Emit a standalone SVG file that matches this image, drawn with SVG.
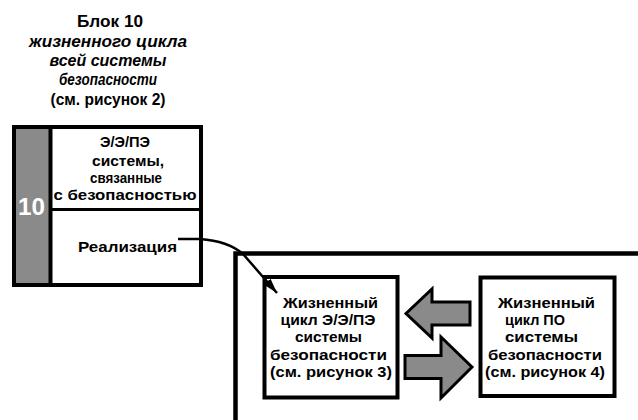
<svg xmlns="http://www.w3.org/2000/svg" width="638" height="420" viewBox="0 0 638 420">
  <style>
    .t { font-family: "Liberation Sans", Arial, sans-serif; font-weight: bold; fill: #000; text-anchor: middle; }
    .title { font-size: 16px; }
    .it { font-style: italic; }
    .box { font-size: 14px; }
    .frame { fill: none; stroke: #000; stroke-width: 4.5; }
    .bx { fill: #fff; stroke: #000; stroke-width: 4; }
    .blk { fill: #8a8a8a; stroke: #000; stroke-width: 3; stroke-linejoin: miter; }
    .conn { fill: none; stroke: #000; stroke-width: 2.5; }
  </style>
  <defs>
    <marker id="ah" viewBox="0 0 10 6" refX="10" refY="3" markerWidth="15" markerHeight="9" markerUnits="userSpaceOnUse" orient="auto">
      <path d="M0,0 L10,3 L0,6 Z" fill="#000"/>
    </marker>
  </defs>
  <rect width="638" height="420" fill="#fff"/>

  <g id="title">
    <text class="t title" x="110" y="27" textLength="66" lengthAdjust="spacingAndGlyphs">Блок 10</text>
    <text class="t title it" x="108" y="47" textLength="158" lengthAdjust="spacingAndGlyphs">жизненного цикла</text>
    <text class="t title it" x="108" y="66" textLength="117" lengthAdjust="spacingAndGlyphs">всей системы</text>
    <text class="t title it" x="108" y="85" textLength="98" lengthAdjust="spacingAndGlyphs">безопасности</text>
    <text class="t title" x="108" y="105" textLength="115" lengthAdjust="spacingAndGlyphs">(см. рисунок 2)</text>
  </g>

  <g id="block10">
    <rect x="14" y="127" width="187" height="158" fill="#fff" stroke="none"/>
    <rect x="14" y="127" width="36" height="158" fill="#8a8a8a"/>
    <line x1="50.5" y1="127" x2="50.5" y2="285" stroke="#000" stroke-width="4"/>
    <line x1="50" y1="209.5" x2="201" y2="209.5" stroke="#000" stroke-width="3"/>
    <rect x="14" y="127" width="187" height="158" fill="none" stroke="#000" stroke-width="4"/>
    <text class="t" x="31.5" y="215" font-size="24" style="fill:#fff" textLength="27" lengthAdjust="spacingAndGlyphs">10</text>
    <text class="t box" x="125" y="147" textLength="50" lengthAdjust="spacingAndGlyphs">Э/Э/ПЭ</text>
    <text class="t box" x="128" y="166" textLength="72" lengthAdjust="spacingAndGlyphs">системы,</text>
    <text class="t box" x="126" y="183" textLength="72" lengthAdjust="spacingAndGlyphs">связанные</text>
    <text class="t box" x="125" y="200" textLength="143" lengthAdjust="spacingAndGlyphs">с безопасностью</text>
    <text class="t box" x="127.5" y="252" textLength="99" lengthAdjust="spacingAndGlyphs">Реализация</text>
  </g>

  <g id="frame">
    <path class="frame" d="M235.5,420 L235.5,253.5 L640,253.5"/>
  </g>

  <g id="ee-pe-lifecycle">
    <rect class="bx" x="264.5" y="277" width="133" height="120.5"/>
    <text class="t box" x="330.5" y="308" textLength="95" lengthAdjust="spacingAndGlyphs">Жизненный</text>
    <text class="t box" x="328" y="325" textLength="95" lengthAdjust="spacingAndGlyphs">цикл Э/Э/ПЭ</text>
    <text class="t box" x="328.5" y="342" textLength="67" lengthAdjust="spacingAndGlyphs">системы</text>
    <text class="t box" x="328.5" y="360" textLength="117" lengthAdjust="spacingAndGlyphs">безопасности</text>
    <text class="t box" x="331" y="377" textLength="122" lengthAdjust="spacingAndGlyphs">(см. рисунок 3)</text>
  </g>

  <g id="software-lifecycle">
    <rect class="bx" x="480.5" y="277.5" width="134" height="118.5"/>
    <text class="t box" x="546.5" y="308" textLength="97" lengthAdjust="spacingAndGlyphs">Жизненный</text>
    <text class="t box" x="535" y="325" textLength="60" lengthAdjust="spacingAndGlyphs">цикл ПО</text>
    <text class="t box" x="541.5" y="342" textLength="73" lengthAdjust="spacingAndGlyphs">системы</text>
    <text class="t box" x="545" y="360" textLength="114" lengthAdjust="spacingAndGlyphs">безопасности</text>
    <text class="t box" x="545" y="377" textLength="120" lengthAdjust="spacingAndGlyphs">(см. рисунок 4)</text>
  </g>

  <g id="connectors">
    <path class="conn" d="M178,239 L200,239 Q228,241 243,254 L277,293" marker-end="url(#ah)"/>
    <polygon class="blk" points="406,313.5 432,289 432,302 470,302 470,325 432,325 432,338"/>
    <polygon class="blk" points="472,367 441,337 441,355.5 405,355.5 405,378.5 441,378.5 441,398"/>
  </g>
</svg>
